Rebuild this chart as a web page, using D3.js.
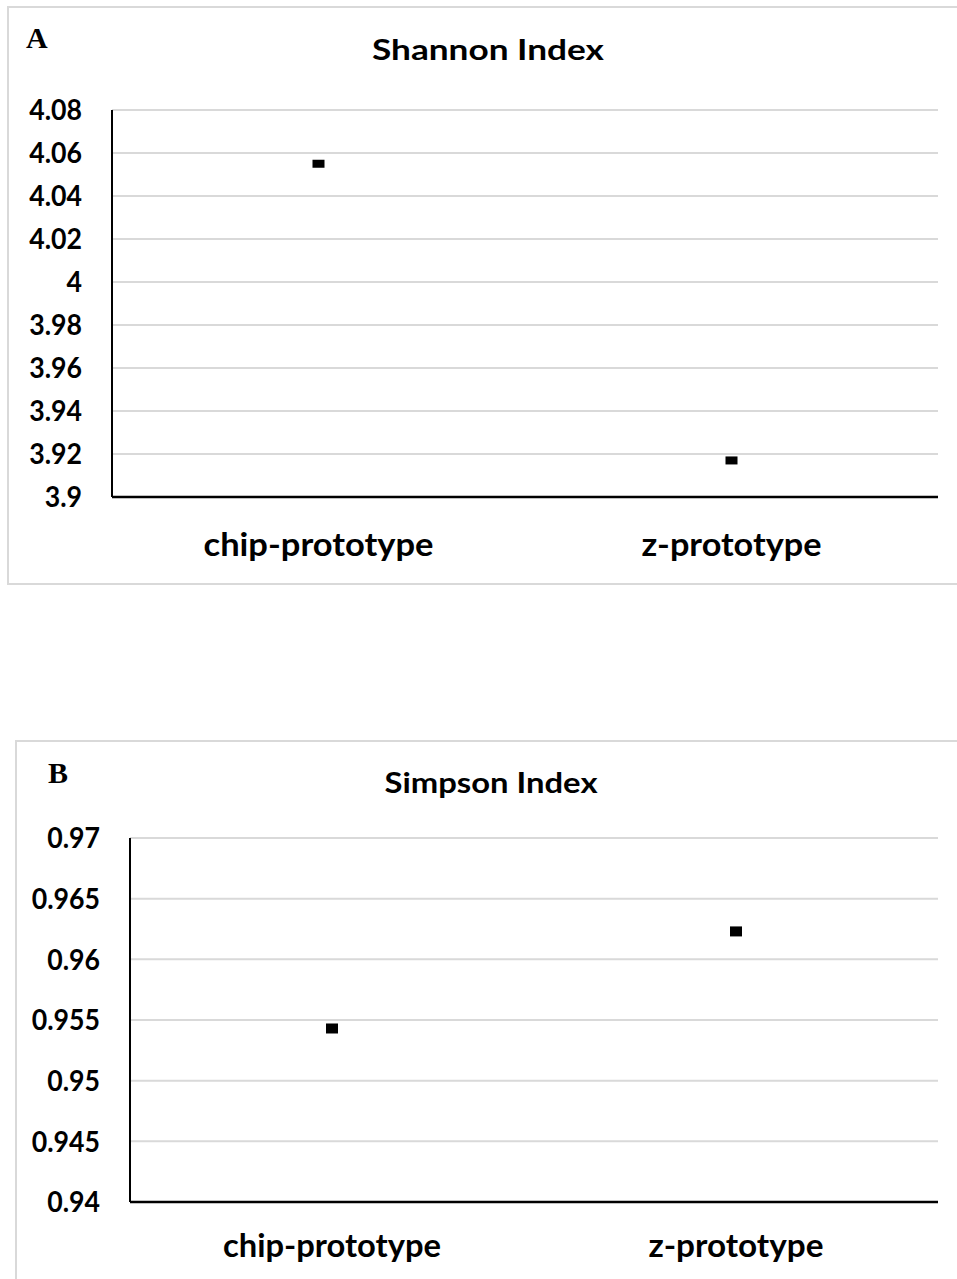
<!DOCTYPE html>
<html>
<head>
<meta charset="utf-8">
<script src="https://cdn.jsdelivr.net/npm/d3@7"></script>
<style>
  html, body { margin: 0; padding: 0; background: #fff; }
  svg { display: block; }
  .tick-label, .cat-label, .title { font-family: Lato, "Open Sans", sans-serif; font-weight: 700; fill: #000; }
  .panel-letter { font-family: "Liberation Serif", "DejaVu Serif", serif; font-weight: 700; fill: #000; }
</style>
</head>
<body>
<script>
// Diversity indices per prototype
const categories = ["chip-prototype", "z-prototype"];
const shannonValues = [4.055, 3.917];
const simpsonValues = [0.9543, 0.9623];

const shannonTicks = [3.9, 3.92, 3.94, 3.96, 3.98, 4.0, 4.02, 4.04, 4.06, 4.08];
const shannonTickLabels = ["3.9", "3.92", "3.94", "3.96", "3.98", "4", "4.02", "4.04", "4.06", "4.08"];
const simpsonTicks = [0.94, 0.945, 0.95, 0.955, 0.96, 0.965, 0.97];
const simpsonTickLabels = ["0.94", "0.945", "0.95", "0.955", "0.96", "0.965", "0.97"];

const W = 957, H = 1279;
const svg = d3.select("body").append("svg").attr("width", W).attr("height", H);

// narrow a text element horizontally so it reads like a condensed face
function condense(sel, factor) {
  sel.each(function () {
    const w = this.getComputedTextLength();
    d3.select(this).attr("textLength", w * factor).attr("lengthAdjust", "spacingAndGlyphs");
  });
}

function drawPanel(p) {
  const g = svg.append("g");

  // outer chart frame (runs off the right/bottom edge)
  g.append("rect")
    .attr("x", p.box.x).attr("y", p.box.y)
    .attr("width", p.box.w).attr("height", p.box.h)
    .attr("fill", "#fff").attr("stroke", "#d9d9d9").attr("stroke-width", 2);

  const x = d3.scaleBand().domain(categories).range([p.left, p.right]);
  const y = d3.scaleLinear().domain([p.ticks[0], p.ticks[p.ticks.length - 1]]).range([p.bottom, p.top]);

  // horizontal gridlines
  g.append("g").selectAll("line").data(p.ticks.slice(1)).join("line")
    .attr("x1", p.left).attr("x2", p.right)
    .attr("y1", d => y(d)).attr("y2", d => y(d))
    .attr("stroke", "#d9d9d9").attr("stroke-width", 2);

  // y tick labels
  g.append("g").selectAll("text").data(p.ticks).join("text")
    .attr("class", "tick-label")
    .attr("x", p.left - 30).attr("y", d => y(d)).attr("dy", "0.36em")
    .attr("text-anchor", "end")
    .attr("font-size", p.tickSize)
    .text((d, i) => p.tickLabels[i])
    .call(condense, 0.92);

  // axes
  g.append("line").attr("x1", p.left).attr("x2", p.left)
    .attr("y1", p.top).attr("y2", p.bottom)
    .attr("stroke", "#000").attr("stroke-width", 2);
  g.append("line").attr("x1", p.left).attr("x2", p.right)
    .attr("y1", p.bottom).attr("y2", p.bottom)
    .attr("stroke", "#000").attr("stroke-width", 2.5);

  // category labels
  g.append("g").selectAll("text").data(categories).join("text")
    .attr("class", "cat-label")
    .attr("x", d => x(d) + x.bandwidth() / 2).attr("y", p.catY)
    .attr("text-anchor", "middle")
    .attr("font-size", p.catSize)
    .attr("textLength", (d, i) => p.catWidths[i])
    .attr("lengthAdjust", "spacingAndGlyphs")
    .text(d => d);

  // markers
  g.append("g").selectAll("rect").data(p.values).join("rect")
    .attr("x", (d, i) => x(categories[i]) + x.bandwidth() / 2 - p.mw / 2)
    .attr("y", d => y(d) - p.mh / 2)
    .attr("width", p.mw).attr("height", p.mh)
    .attr("fill", "#000");

  // title
  g.append("text").attr("class", "title")
    .attr("x", p.titleX).attr("y", p.titleY)
    .attr("text-anchor", "middle")
    .attr("font-size", p.titleSize)
    .attr("textLength", p.titleWidth).attr("lengthAdjust", "spacingAndGlyphs")
    .text(p.title);

  // panel letter
  g.append("text").attr("class", "panel-letter")
    .attr("x", p.letterX).attr("y", p.letterY)
    .attr("font-size", 30)
    .text(p.letter);
}

drawPanel({
  box: { x: 8, y: 7, w: 960, h: 577 },
  left: 112, right: 938, top: 110, bottom: 497,
  ticks: shannonTicks, tickLabels: shannonTickLabels, values: shannonValues,
  tickSize: 29,
  catY: 556, catSize: 32, catWidths: [230, 180],
  mw: 12, mh: 8,
  title: "Shannon Index", titleX: 488, titleY: 60, titleSize: 29, titleWidth: 232,
  letter: "A", letterX: 26, letterY: 48
});

drawPanel({
  box: { x: 16, y: 741, w: 960, h: 560 },
  left: 130, right: 938, top: 838, bottom: 1202,
  ticks: simpsonTicks, tickLabels: simpsonTickLabels, values: simpsonValues,
  tickSize: 29,
  catY: 1257, catSize: 32, catWidths: [218, 175],
  mw: 12, mh: 10,
  title: "Simpson Index", titleX: 491, titleY: 793, titleSize: 29, titleWidth: 213,
  letter: "B", letterX: 48, letterY: 783
});
</script>
</body>
</html>
